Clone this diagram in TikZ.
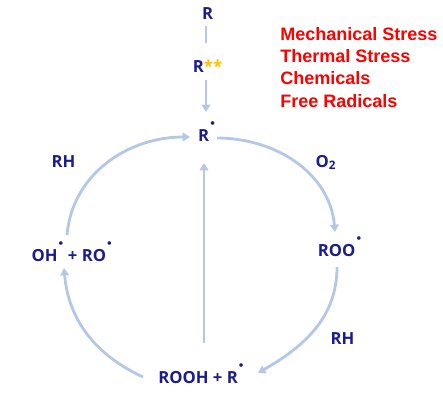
\documentclass[tikz,border=0pt]{standalone}
\usepackage{fontspec}
\setmainfont{Open Sans}
\newfontfamily\causefont{Liberation Sans}
\usetikzlibrary{arrows.meta}
\definecolor{spcblue}{RGB}{28,28,140}
\definecolor{arrblue}{RGB}{180,199,231}
\definecolor{starorange}{RGB}{255,192,0}
\newcommand{\rad}{\kern0.6pt\raisebox{11.5pt}{$\scriptscriptstyle\bullet$}}

\begin{document}
\begin{tikzpicture}[x=0.75pt, y=0.75pt,
  spc/.style={anchor=base, inner sep=1pt, text=spcblue, font=\fontsize{12.5}{14}\selectfont\bfseries},
  link/.style={line width=2.1pt, draw=arrblue},
  arr/.style={link, -{Triangle[length=5.5pt,width=6.5pt]}},
  cause/.style={anchor=north west, inner sep=0pt, align=left, text=red, font=\causefont\fontsize{13.5}{16.75}\selectfont\bfseries}
]
\useasboundingbox (0,0) rectangle (443,-401);

% initiation
\node[spc] (R)   at (207.5,-19.5) {R};
\node[spc] (Rss) at (207.5,-72)   {R\textcolor{starorange}{**}};
\node[cause] (causes) at (280,-27) {Mechanical Stress\\Thermal Stress\\Chemicals\\Free Radicals};

% cycle species
\node[spc] (Rd)   at (206.7,-141) {R\rad};
\node[spc] (roo)  at (339.7,-256) {ROO\rad};
\node[spc] (rooh) at (201,-383)   {ROOH + R\rad};
\node[spc] (ohro) at (71.8,-261)  {OH\rad{} + RO\rad};

% reagents
\node[spc] (rhL) at (63.5,-167)  {RH};
\node[spc] (o2)  at (326,-167)   {O\textsubscript{2}};
\node[spc] (rhR) at (342.5,-344) {RH};

% R -> R** -> R.
\draw[link] ([shift={(-1.5,-6.5)}]R.base) -- ([shift={(-1.5,29)}]Rss.base);
\draw[arr]  ([shift={(-1.5,-8)}]Rss.base) -- ([shift={(-0.7,29)}]Rd.base);

% the cycle
\draw[arr] ([shift={(10.3,3)}]Rd.base)    to[out=0,in=95]    ([shift={(-4.7,24)}]roo.base);
\draw[arr] ([shift={(-2.7,-11)}]roo.base) to[out=-90,in=30]  ([shift={(57,10)}]rooh.base);
\draw[arr] ([shift={(-58,6)}]rooh.base)   to[out=155,in=-85] ([shift={(-7.8,-7)}]ohro.base);
\draw[arr] ([shift={(-4.8,26)}]ohro.base) to[out=85,in=180]  ([shift={(-16.7,4)}]Rd.base);
\draw[arr] ([shift={(3,40)}]rooh.base)    -- ([shift={(-2.7,-22)}]Rd.base);

\end{tikzpicture}
\end{document}
